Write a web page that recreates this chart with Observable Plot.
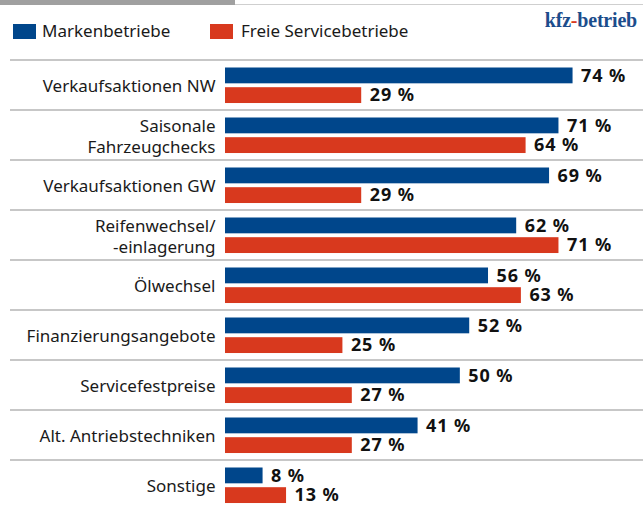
<!DOCTYPE html>
<html><head><meta charset="utf-8">
<script src="https://cdn.jsdelivr.net/npm/d3@7"></script>
<script src="https://cdn.jsdelivr.net/npm/@observablehq/plot@0.6"></script>
<style>
body{margin:0;background:#fff;width:643px;height:509px;overflow:hidden;position:relative;font-family:"Noto Sans",sans-serif;}
#topbar{position:absolute;left:0;top:0;width:235px;height:5px;background:#a0a0a0;}
#topline{position:absolute;left:235px;top:4px;width:408px;height:1px;background:#cfcfcf;}
.sw{position:absolute;top:24px;width:23px;height:15px;}
.lt{position:absolute;top:19px;font-size:17px;color:#1a1a1a;line-height:24px;white-space:nowrap;}
#logo{position:absolute;right:6px;top:9px;font-family:"Liberation Serif",serif;font-weight:bold;font-size:20px;color:#1c4d8c;letter-spacing:-0.2px;}
#logo span{color:#d8391e;}
#chart{position:absolute;left:0;top:55px;}
#chart g[font-weight="bold"] text{letter-spacing:0.9px;}
</style></head><body>
<div id="topbar"></div><div id="topline"></div>
<div id="legend"></div>
<div id="logo">kfz<span>-</span>betrieb</div>
<div id="chart"></div>
<script>
const categories = ["Verkaufsaktionen NW","Saisonale\nFahrzeugchecks","Verkaufsaktionen GW","Reifenwechsel/\n-einlagerung","Ölwechsel","Finanzierungsangebote","Servicefestpreise","Alt. Antriebstechniken","Sonstige"];
const series = ["Markenbetriebe","Freie Servicebetriebe"];
const markenValues = [74,71,69,62,56,52,50,41,8];
const freieValues = [29,64,29,71,63,25,27,27,13];
const colors = ["#00468b","#d8391e"];

// legend
const legendPos = [{sx:13, tx:42},{sx:210, tx:241}];
const legend = document.getElementById("legend");
series.forEach((s,i)=>{
  const sw = document.createElement("div"); sw.className="sw"; sw.style.left=legendPos[i].sx+"px"; sw.style.background=colors[i]; legend.appendChild(sw);
  const t = document.createElement("div"); t.className="lt"; t.style.left=legendPos[i].tx+"px"; t.textContent=s; legend.appendChild(t);
});

const rows = categories.flatMap((c,i)=>[
  {category:c, series:series[0], value:markenValues[i]},
  {category:c, series:series[1], value:freieValues[i]}
]);
const y0 = 0.7, y1 = 458.6;
const band = (y1-y0)/categories.length;
const barH = 16.7, topGap = 7.5, midGap = 3.0;
const blueInsetTop = topGap, blueInsetBottom = band - topGap - barH;
const redInsetTop = topGap + barH + midGap, redInsetBottom = band - redInsetTop - barH;
const blueDy = (topGap + barH/2) - band/2;
const redDy = (redInsetTop + barH/2) - band/2;
const marken = rows.filter(d=>d.series===series[0]);
const freie = rows.filter(d=>d.series===series[1]);

const chart = Plot.plot({
  width:643, height:460, marginLeft:225, marginRight:0, marginTop:0, marginBottom:0,
  style:{fontFamily:"'Noto Sans', sans-serif", background:"transparent", overflow:"visible"},
  x:{domain:[0,89], axis:null},
  y:{domain:categories, range:[y0,y1], padding:0, axis:null},
  color:{domain:series, range:colors},
  marks:[
    Plot.ruleY(categories, {y:d=>d, dy:-band/2, insetLeft:-215, stroke:"#b5b5b5", strokeWidth:1.5}),
    Plot.barX(marken, {x:"value", y:"category", fill:"series", insetTop:blueInsetTop, insetBottom:blueInsetBottom}),
    Plot.barX(freie, {x:"value", y:"category", fill:"series", insetTop:redInsetTop, insetBottom:redInsetBottom}),
    Plot.text(marken, {x:"value", y:"category", text:d=>d.value+" %", dx:8, dy:blueDy, textAnchor:"start", fontSize:18, fontWeight:"bold", fill:"#111"}),
    Plot.text(freie, {x:"value", y:"category", text:d=>d.value+" %", dx:8, dy:redDy, textAnchor:"start", fontSize:18, fontWeight:"bold", fill:"#111"}),
    Plot.text(categories, {y:d=>d, text:d=>d, frameAnchor:"left", dx:-10, textAnchor:"end", fontSize:17, lineHeight:1.25, fill:"#1a1a1a"})
  ]
});
document.getElementById("chart").appendChild(chart);
</script>
</body></html>
